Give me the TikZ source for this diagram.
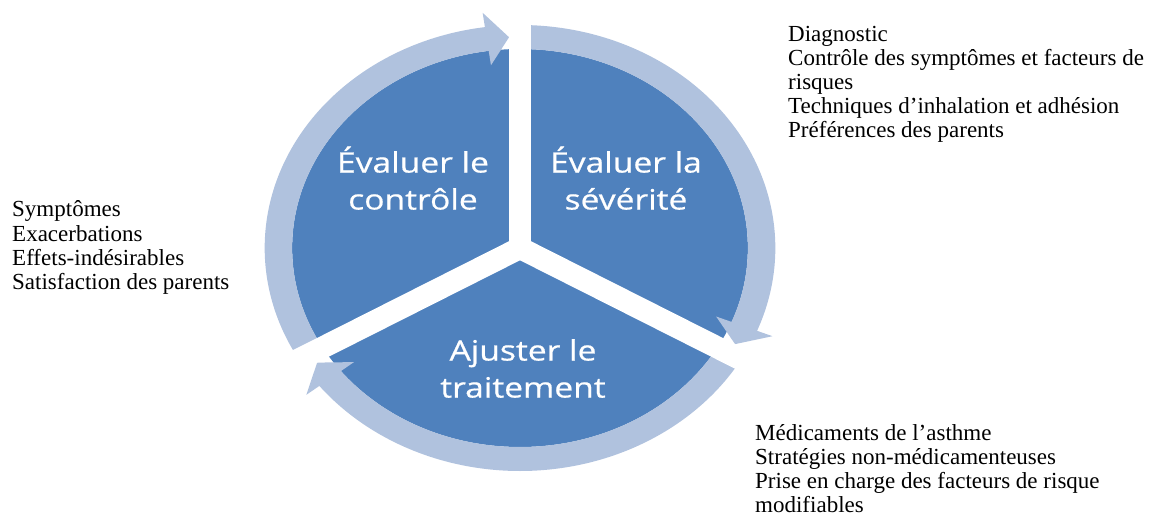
\documentclass[tikz,border=0pt]{standalone}
\usepackage{fontspec}
\setmainfont{Liberation Serif}
\newfontfamily\labelfont[FakeStretch=1.2,FakeBold=0.6]{Open Sans}
\definecolor{pieblue}{HTML}{4F81BD}
\definecolor{ringblue}{HTML}{B0C2DE}
\tikzset{
  sector label/.style={text=white, font=\labelfont\fontsize{28}{37}\selectfont, align=center, inner sep=0pt, anchor=south},
  side text/.style={font=\fontsize{23}{24.2}\selectfont, align=left, inner sep=0pt, anchor=north west},
  ringarrow/.style={fill=ringblue},
  gapline/.style={draw=white, line width=22pt},
}
\begin{document}
\begin{tikzpicture}[x=1pt,y=1pt]
\useasboundingbox (0,0) rectangle (1153,517);
\begin{scope}[shift={(520,269)}, xscale=1.145]
  \coordinate (c) at (0,0);
  \fill[pieblue] (c) circle[radius=199];
  % arrow 1 (left, towards top)
  \fill[ringarrow] (210:199) -- (210:223) arc[start angle=210, end angle=97.9, radius=223]
    -- (97.9:237.5) -- (92.6:211) -- (97.9:184.5) -- (97.9:199)
    arc[start angle=97.9, end angle=210, radius=199] -- cycle;
  % arrow 2 (right, towards lower right)
  \fill[ringarrow] (90:199) -- (90:223) arc[start angle=90, end angle=-21.8, radius=223]
    -- (-21.8:237.5) -- (-27.1:211) -- (-21.8:184.5) -- (-21.8:199)
    arc[start angle=-21.8, end angle=90, radius=199] -- cycle;
  % arrow 3 (bottom, towards lower left)
  \fill[ringarrow] (-30:199) -- (-30:223) arc[start angle=-30, end angle=-141.8, radius=223]
    -- (-141.8:237.5) -- (-147.1:211) -- (-141.8:184.5) -- (-141.8:199)
    arc[start angle=-141.8, end angle=-30, radius=199] -- cycle;
  % gaps
  \coordinate (g1) at (90:226);
  \coordinate (g2) at (210:226);
  \coordinate (g3) at (330:226);
  \draw[gapline] (c) -- (g1);
  \draw[gapline] (c) -- (g2);
  \draw[gapline] (c) -- (g3);
\end{scope}
\node[sector label] (controle) at (413,307) {Évaluer le\\contrôle};
\node[sector label] (severite) at (626,307) {Évaluer la\\sévérité};
\node[sector label] (traitement) at (523,119) {Ajuster le\\traitement};
\node[side text] (diag) at (788,491.3) {Diagnostic\\Contrôle des symptômes et facteurs de\\risques\\Techniques d’inhalation et adhésion\\Préférences des parents};
\node[side text] (sympt) at (12,316.3) {Symptômes\\Exacerbations\\Effets-indésirables\\Satisfaction des parents};
\node[side text] (medic) at (755,93) {Médicaments de l’asthme\\Stratégies non-médicamenteuses\\Prise en charge des facteurs de risque\\modifiables};
\end{tikzpicture}
\end{document}
